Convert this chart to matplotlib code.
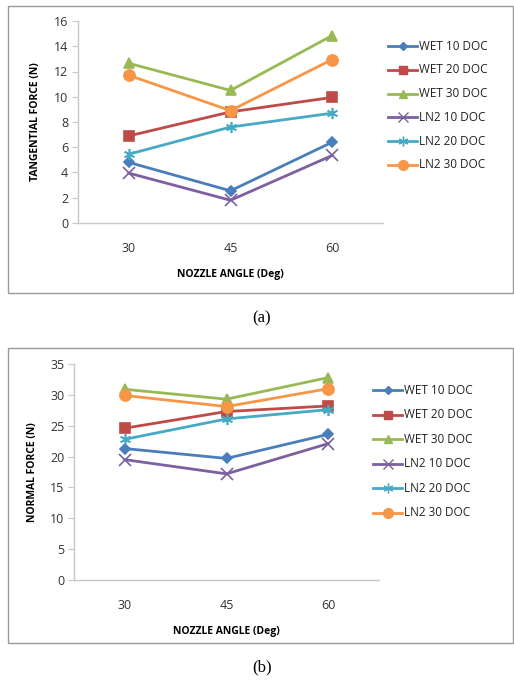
import numpy as np
import matplotlib.pyplot as plt
from matplotlib.patches import Rectangle

# nozzle angles (categories)
angles = ['30', '45', '60']
series = ['WET 10 DOC', 'WET 20 DOC', 'WET 30 DOC', 'LN2 10 DOC', 'LN2 20 DOC', 'LN2 30 DOC']

# tangential force (N)
tang_wet10 = [4.8, 2.55, 6.4]
tang_wet20 = [6.9, 8.8, 9.95]
tang_wet30 = [12.65, 10.5, 14.85]
tang_ln10 = [3.95, 1.8, 5.35]
tang_ln20 = [5.45, 7.6, 8.7]
tang_ln30 = [11.7, 8.9, 12.95]

# normal force (N)
norm_wet10 = [21.3, 19.7, 23.6]
norm_wet20 = [24.6, 27.3, 28.2]
norm_wet30 = [30.9, 29.3, 32.8]
norm_ln10 = [19.5, 17.2, 22.1]
norm_ln20 = [22.8, 26.1, 27.6]
norm_ln30 = [29.9, 28.1, 31.0]

colors = ['#4A7EBB', '#BE4B48', '#98B954', '#7D60A0', '#46AAC5', '#F79646']
markers = ['D', 's', '^', 'x', (6, 2, 0), 'o']
msizes = [5, 7, 7, 8, 8, 8]

plt.rcParams['font.family'] = ['Open Sans', 'DejaVu Sans']

fig = plt.figure(figsize=(5.14, 6.82), dpi=100)
W, H = 514, 682


def px_axes(x0, y0, x1, y1):
    return fig.add_axes([x0 / W, 1 - y1 / H, (x1 - x0) / W, (y1 - y0) / H])


def panel(ax, data, ymax, ystep, ylabel, leg_x, leg_y0, leg_dy):
    x = np.arange(len(angles)) + 0.5
    for i, vals in enumerate(data):
        ax.plot(x, vals, color=colors[i], lw=2.0, marker=markers[i], ms=msizes[i],
                mew=1.2, mec=colors[i], mfc=colors[i], label=series[i], clip_on=False)
    ax.set_xlim(0, 3)
    ax.set_ylim(0, ymax)
    ax.set_xticks(x)
    ax.set_xticklabels(angles)
    ax.set_yticks(np.arange(0, ymax + 0.1, ystep))
    for s in ['top', 'right']:
        ax.spines[s].set_visible(False)
    for s in ['left', 'bottom']:
        ax.spines[s].set_color('#C8C8C8')
        ax.spines[s].set_linewidth(1.0)
    ax.tick_params(axis='y', length=4, color='#C8C8C8', labelsize=9, labelcolor='#333333', pad=3)
    ax.tick_params(axis='x', length=0, labelsize=9, labelcolor='#333333', pad=14)
    ax.set_xlabel('NOZZLE ANGLE (Deg)', fontsize=7.5, fontweight='bold', labelpad=10)
    ax.set_ylabel(ylabel, fontsize=7.5, fontweight='bold', labelpad=9)
    # legend placed by hand, line + marker then label
    for i in range(len(series)):
        yy = leg_y0 + i * leg_dy
        fig.add_artist(plt.Line2D([leg_x / W, (leg_x + 29) / W], [1 - yy / H, 1 - yy / H],
                                  color=colors[i], lw=2.0))
        fig.add_artist(plt.Line2D([(leg_x + 14.5) / W], [1 - yy / H], color=colors[i],
                                  marker=markers[i], ms=msizes[i] - 1, mew=1.0,
                                  mfc=colors[i], mec=colors[i]))
        fig.text((leg_x + 31) / W, 1 - yy / H, series[i], fontsize=8.5, color='#222222',
                 va='center', ha='left')


# outer frames
fig.add_artist(Rectangle((8 / W, 1 - 293 / H), 505 / W, 287 / H, fill=False,
                         edgecolor='#9A9A9A', lw=1.0, transform=fig.transFigure))
fig.add_artist(Rectangle((8 / W, 1 - 643 / H), 505 / W, 295 / H, fill=False,
                         edgecolor='#9A9A9A', lw=1.0, transform=fig.transFigure))

ax1 = px_axes(78, 21, 383, 223)
panel(ax1, [tang_wet10, tang_wet20, tang_wet30, tang_ln10, tang_ln20, tang_ln30],
      16, 2, 'TANGENTIAL FORCE (N)', 388, 46, 23.8)

ax2 = px_axes(74, 364, 379, 580)
panel(ax2, [norm_wet10, norm_wet20, norm_wet30, norm_ln10, norm_ln20, norm_ln30],
      35, 5, 'NORMAL FORCE (N)', 373, 390, 24.6)

fig.text(262 / W, 1 - 318 / H, '(a)', fontsize=12, family='Liberation Serif', ha='center', va='center')
fig.text(262 / W, 1 - 667 / H, '(b)', fontsize=12, family='Liberation Serif', ha='center', va='center')

fig.savefig('out.png', dpi=100)
